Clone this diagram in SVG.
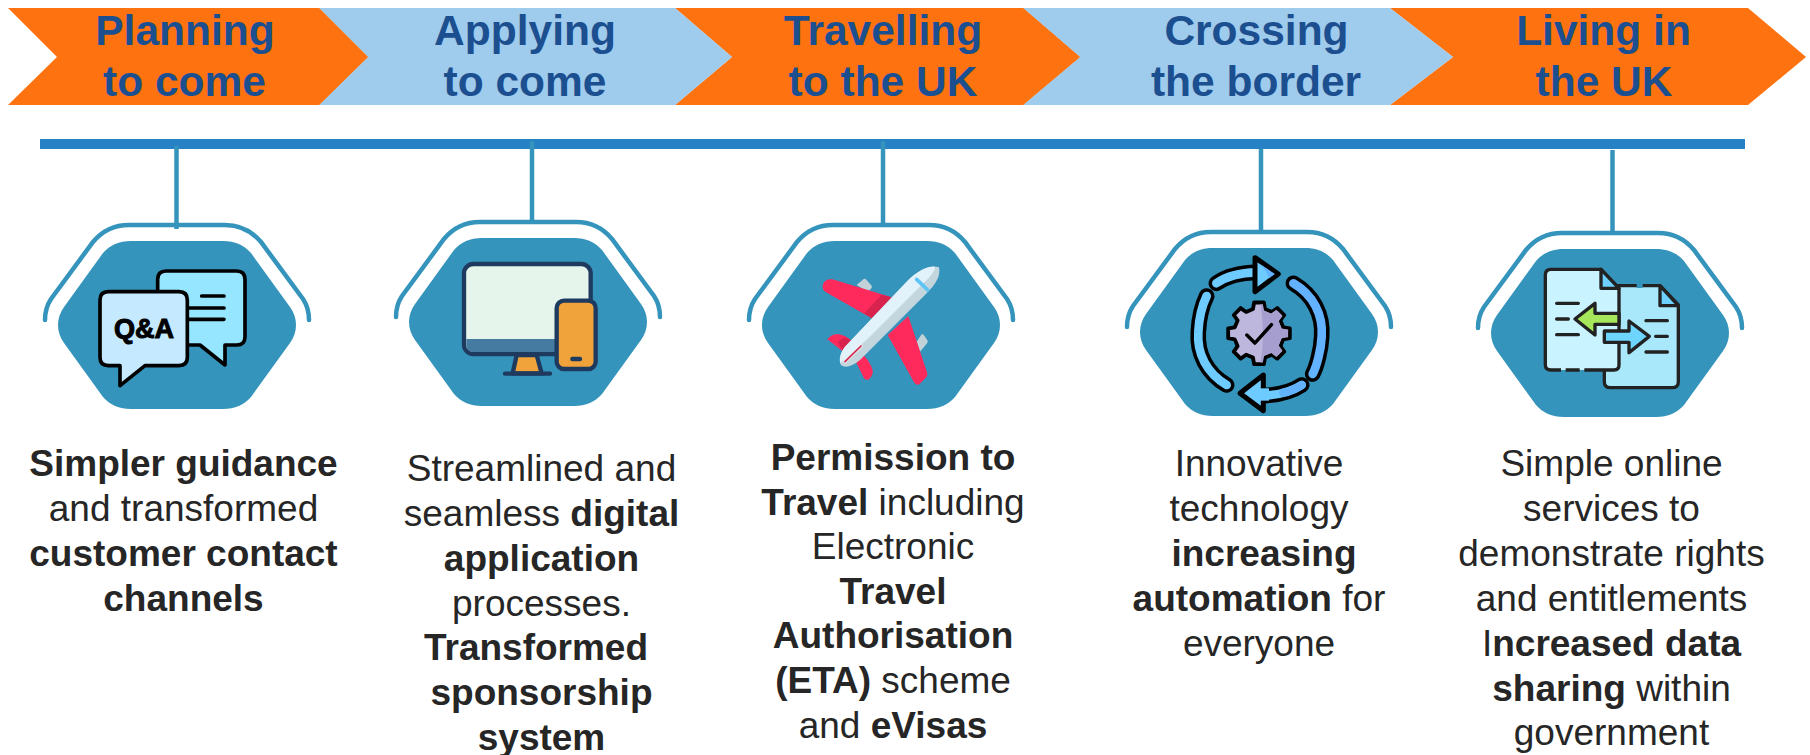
<svg xmlns="http://www.w3.org/2000/svg" width="1810" height="755" viewBox="0 0 1810 755">
<style>
text{font-family:"Liberation Sans",Arial,sans-serif;text-anchor:middle}
.o{fill:#FF7210}.b{fill:#9FCBED}
.h{font-size:42.500px;font-weight:700;fill:#1B4F8F}
.t{font-size:37px;fill:#262626}
.t tspan.s{font-weight:700}
.c{stroke:#3594BC;stroke-width:4.5;fill:none}
.hex{fill:#3594BC}
.arc{fill:none;stroke:#3594BC;stroke-width:4.5;stroke-linecap:round}
.k{stroke:#000;stroke-width:11;stroke-linecap:round;stroke-linejoin:round}
.n{stroke:#1E3A5F;stroke-width:13;stroke-linecap:round;stroke-linejoin:round}
.d{stroke:#222;stroke-width:10;stroke-linecap:round;stroke-linejoin:round}
.nf{fill:none}
</style>
<defs>
<g id="frame">
<path class="hex" d="M-46,-84H46C58,-84 67,-80 74,-72L113,-18C121,-7 121,7 113,18L74,72C67,80 58,84 46,84H-46C-58,84 -67,80 -74,72L-113,18C-121,7 -121,-7 -113,-18L-74,-72C-67,-80 -58,-84 -46,-84Z"/>
<path class="arc" d="M-132,-5C-132,-13 -130,-20 -126,-26L-84,-83C-74,-95 -62,-100 -48,-100H48C62,-100 74,-95 84,-83L126,-26C130,-20 132,-13 132,-5"/>
</g>
<clipPath id="gearShade"><path d="M0,-100C15,-50 15,50 0,100H100V-100Z"/></clipPath>
</defs>
<g id="stage-1"><polygon class="o" points="8,8 319,8 368,57 319,105 8,105 57,57"/><text class="h" x="185" y="45">Planning</text><text class="h" x="184.500" y="96">to come</text></g>
<g id="stage-3"><polygon class="o" points="675,8 1023,8 1080,57 1023,105 675,105 732,57"/></g>
<g id="stage-2"><polygon class="b" points="319,8 675,8 732,57 675,105 319,105 368,57"/><text class="h" x="525" y="45">Applying</text><text class="h" x="525" y="96">to come</text></g>
<polygon class="o" points="319,8 319,105 368,57"/>
<g id="stage-5"><polygon class="o" points="1390,8 1748,8 1806,57 1748,105 1390,105 1453,57"/><text class="h" x="1603.500" y="45">Living in</text><text class="h" x="1604" y="96">the UK</text></g>
<g id="stage-4"><polygon class="b" points="1023,8 1390,8 1453,57 1390,105 1023,105 1080,57"/><text class="h" x="1256.500" y="45">Crossing</text><text class="h" x="1256" y="96">the border</text></g>
<polygon class="o" points="1023,8 1023,105 1080,57"/>
<text class="h" x="883" y="45">Travelling</text><text class="h" x="883" y="96">to the UK</text>
<g id="timeline"><rect x="40" y="139" width="1705" height="10" fill="#2681C5"/></g>
<g id="connectors">
<path class="c" d="M176.500,146V229"/>
<path class="c" d="M532,141V222"/>
<path class="c" d="M883,141V225"/>
<path class="c" d="M1261,149V232"/>
<path class="c" d="M1612.500,150V233"/>
</g>
<g id="node-1">
<use href="#frame" x="177" y="325"/>
<g transform="translate(30,210) scale(.33333)">
<path class="k" fill="#97E6FF" d="M408,183H620Q645,183 645,208V380Q645,405 620,405H585V465L510,405H408Q383,405 383,380V208Q383,183 408,183Z"/>
<path class="k nf" d="M515,258H582M478,294H582M478,328H582"/>
<path class="k" fill="#C5E9FF" d="M235,245H447Q472,245 472,270V442Q472,467 447,467H345L270,527V467H235Q210,467 210,442V270Q210,245 235,245Z"/>
</g>
<text x="144" y="338" font-size="27" font-weight="700" fill="#000" stroke="#000" stroke-width="1">Q&amp;A</text>
</g>
<g id="node-2">
<use href="#frame" x="528" y="322"/>
<g transform="translate(380,210) scale(.33333)">
<path class="n" fill="#F0A33A" d="M410,435L398,490H485L470,435Z"/>
<path class="n nf" d="M375,491H510"/>
<rect class="n" x="252" y="162" width="380" height="270" rx="28" fill="#E5F5EC"/>
<path fill="#457BA1" d="M259,387H626V405Q626,426 604,426H280Q259,426 259,405Z"/>
<rect class="n" x="530" y="272" width="117" height="205" rx="22" fill="#F0A33A"/>
<path class="n nf" stroke-width="11" d="M577,447H600"/>
</g>
</g>
<g id="node-3">
<use href="#frame" x="881" y="325"/>
<g transform="translate(735,210) scale(.33333)">
<path fill="#C3D2D8" d="M365,225L386,207Q390,205 394,209L410,227Q412,232 408,236L398,245ZM545,395L560,373Q564,372 567,376L578,392Q579,397 575,401L555,425Z"/>
<path fill="#FF2A5C" d="M264,222Q272,205 292,208L470,262L410,325L272,246Q260,238 264,222ZM520,318L577,490Q578,497 572,503L553,523Q545,527 538,518L458,375ZM277,388Q290,370 312,373Q330,376 350,392L325,425ZM360,450L385,435Q405,455 413,480Q415,498 400,509Q393,511 387,505Z"/>
<path fill="#D9234F" d="M440,254L470,262L410,325L387,310ZM308,395L330,382L350,392L325,425Z"/>
<path fill="#C3D6DE" d="M612,172C580,165 545,185 515,215L330,410C315,430 310,450 318,465C330,475 350,470 375,450L575,250C600,225 618,200 612,172Z"/>
<path fill="#E2F2FB" d="M600,170C575,168 545,185 515,215L330,410C318,425 312,445 316,460C340,440 370,410 400,385L560,225C585,200 600,185 600,170Z"/>
<path fill="none" stroke="#5CC5F5" stroke-width="11" stroke-linecap="round" d="M545,208L578,240"/>
<path fill="none" stroke="#E8EDF0" stroke-width="10" stroke-linecap="round" d="M330,455L378,408"/>
<path fill="none" stroke="#D4264F" stroke-width="5" stroke-linecap="round" d="M330,455L378,408"/>
</g>
</g>
<g id="node-4">
<use href="#frame" x="1259" y="332"/>
<g transform="translate(1115,220) scale(.33333)" fill="none" stroke-linecap="round" stroke-linejoin="round">
<path stroke="#000" stroke-width="47" d="M335,495C275,460 245,400 250,335C252,295 262,255 275,228"/>
<path stroke="#6ECBFF" stroke-width="26" d="M335,495C275,460 245,400 250,335C252,295 262,255 275,228"/>
<path stroke="#000" stroke-width="47" d="M304,190C335,168 375,158 425,157"/>
<path stroke="#6ECBFF" stroke-width="26" d="M304,190C335,168 375,158 425,157"/>
<path stroke="#000" stroke-width="15" fill="#6ECBFF" d="M420,113L490,162L420,215Z"/>
<path fill="#62B2FF" d="M425,125L480,162L462,175Q450,140 425,125Z"/>
<path stroke="#000" stroke-width="47" d="M535,190C595,225 625,285 620,350C618,390 605,440 593,462"/>
<path stroke="#62B2FF" stroke-width="26" d="M535,190C595,225 625,285 620,350C618,390 605,440 593,462"/>
<path stroke="#000" stroke-width="47" d="M560,495C530,515 490,525 445,527"/>
<path stroke="#6ECBFF" stroke-width="26" d="M560,495C530,515 490,525 445,527"/>
<path stroke="#62B2FF" stroke-width="26" d="M560,495C545,505 525,513 505,518"/>
<path stroke="#000" stroke-width="15" fill="#6ECBFF" d="M445,465L375,520L445,572Z"/>
<path fill="#6ECBFF" d="M434,505H462V542H434Z"/>
<g transform="translate(432,340) scale(1.040)">
<path id="gear" stroke="#000" stroke-width="11" fill="#BDB7DD" d="M69.900,-17.400L88.900,-14.100V14.100L69.900,17.400L61.700,37.100L72.800,52.900L52.900,72.800L37.100,61.700L17.400,69.900L14.100,88.900H-14.100L-17.400,69.900L-37.100,61.700L-52.900,72.800L-72.800,52.900L-61.700,37.100L-69.900,17.400L-88.900,14.100V-14.100L-69.900,-17.400L-61.700,-37.100L-72.800,-52.900L-52.900,-72.800L-37.100,-61.700L-17.400,-69.900L-14.100,-88.900H14.100L17.400,-69.900L37.100,-61.700L52.900,-72.800L72.800,-52.900L61.700,-37.100Z"/>
<path clip-path="url(#gearShade)" fill="#A69ECF" d="M65,-14L84,-11V11L65,14L57,35L68,50L50,68L35,57L15,65L11,84H-11L-15,65L-35,57L-50,68L-68,50L-57,35L-65,14L-84,11V-11L-65,-14L-57,-35L-68,-50L-50,-68L-35,-57L-15,-65L-11,-84H11L15,-65L35,-57L50,-68L68,-50L57,-35Z"/>
<path stroke="#000" stroke-width="10" d="M-35,5L-12,28L36,-25"/>
</g>
</g>
</g>
<g id="node-5">
<use href="#frame" x="1610" y="333"/>
<g transform="translate(1465,220) scale(.33333)">
<path class="d" fill="#A8E8FA" d="M418,300V485Q418,503 436,503H622Q640,503 640,485V255L585,197H460V300Z"/>
<path fill="#3594BC" d="M515,190H533V204H515Z"/>
<path class="d" fill="#6ED0FF" d="M585,197V257H640Z"/>
<path class="d" fill="#C8F3FF" d="M258,148H408L462,205V435Q462,450 447,450H258Q241,450 241,435V165Q241,148 258,148Z"/>
<path fill="#C8F3FF" d="M288,444H302V450H288ZM344,444H358V450H344Z"/>
<path fill="#3594BC" d="M288,450H302V456H288ZM344,450H358V456H344Z"/>
<path class="d" fill="#6ED0FF" d="M408,148V205H462Z"/>
<path class="d nf" d="M275,250H340M275,297H310M275,344H340M543,302H607M572,349H607M543,396H607"/>
<path class="d" fill="#A6E65A" d="M330,297L390,250V280H462V313H390V345Z"/>
<path class="d" fill="#6ED5FF" d="M418,333H492V303L553,349L492,398V367H418Z"/>
</g>
</g>
<g id="text-1">
<text class="t" x="183.500" y="476"><tspan class="s">Simpler guidance</tspan></text>
<text class="t" x="183.500" y="521">and transformed</text>
<text class="t" x="183.500" y="566"><tspan class="s">customer contact</tspan></text>
<text class="t" x="183.500" y="611"><tspan class="s">channels</tspan></text>
</g>
<g id="text-2">
<text class="t" x="541.500" y="481">Streamlined and</text>
<text class="t" x="541.500" y="526">seamless <tspan class="s">digital</tspan></text>
<text class="t" x="541.500" y="571"><tspan class="s">application</tspan></text>
<text class="t" x="541.500" y="615.500">processes.</text>
<text class="t" x="536" y="660"><tspan class="s">Transformed</tspan></text>
<text class="t" x="541.500" y="705"><tspan class="s">sponsorship</tspan></text>
<text class="t" x="541.500" y="749.500"><tspan class="s">system</tspan></text>
</g>
<g id="text-3">
<text class="t" x="893" y="470"><tspan class="s">Permission to</tspan></text>
<text class="t" x="893" y="514.600"><tspan class="s">Travel</tspan> including</text>
<text class="t" x="893" y="559.200">Electronic</text>
<text class="t" x="893" y="603.800"><tspan class="s">Travel</tspan></text>
<text class="t" x="893" y="648.400"><tspan class="s">Authorisation</tspan></text>
<text class="t" x="893" y="693"><tspan class="s">(ETA)</tspan> scheme</text>
<text class="t" x="893" y="737.600">and <tspan class="s">eVisas</tspan></text>
</g>
<g id="text-4">
<text class="t" x="1259" y="476">Innovative</text>
<text class="t" x="1259" y="521">technology</text>
<text class="t" x="1264" y="566"><tspan class="s">increasing</tspan></text>
<text class="t" x="1259" y="611"><tspan class="s">automation</tspan> for</text>
<text class="t" x="1259" y="656">everyone</text>
</g>
<g id="text-5">
<text class="t" x="1611.500" y="476">Simple online</text>
<text class="t" x="1611.500" y="521">services to</text>
<text class="t" x="1611.500" y="566">demonstrate rights</text>
<text class="t" x="1611.500" y="611">and entitlements</text>
<text class="t" x="1611.500" y="656">I<tspan class="s">ncreased data</tspan></text>
<text class="t" x="1611.500" y="700.500"><tspan class="s">sharing</tspan> within</text>
<text class="t" x="1611.500" y="745">government</text>
</g>
</svg>
